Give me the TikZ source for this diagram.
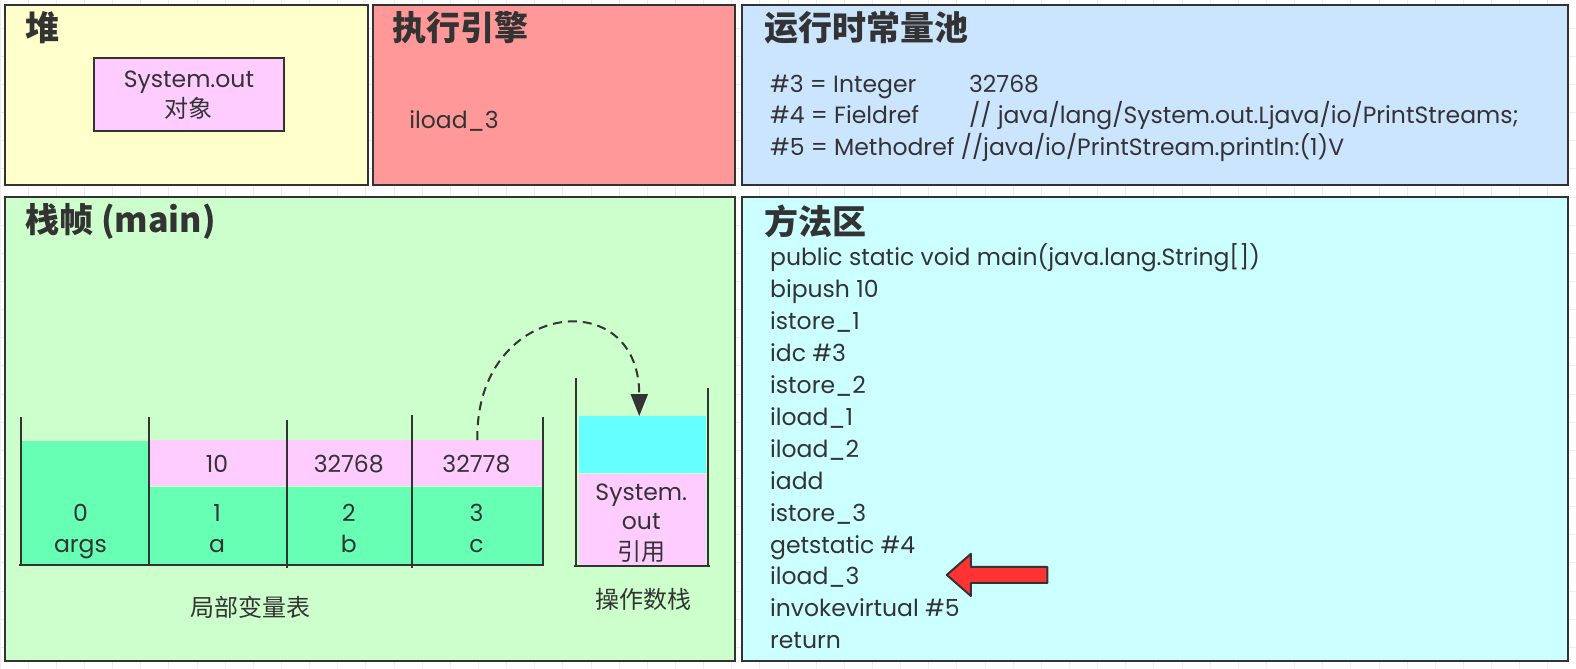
\documentclass[tikz,border=0pt]{standalone}
\usepackage{fontspec}
\setmainfont{Poppins}
\newfontfamily\cjk{Noto Sans CJK SC}
\usetikzlibrary{arrows.meta}
\definecolor{bd}{HTML}{333333}
\definecolor{gridc}{HTML}{EDEDED}
\definecolor{heapc}{HTML}{FFFFCC}
\definecolor{enginec}{HTML}{FF9999}
\definecolor{poolc}{HTML}{CCE5FF}
\definecolor{framec}{HTML}{CCFFCC}
\definecolor{methodc}{HTML}{CCFFFF}
\definecolor{greenc}{HTML}{66FFB3}
\definecolor{pinkc}{HTML}{FFCCFF}
\definecolor{cyanc}{HTML}{66FFFF}
\definecolor{arrowc}{HTML}{FF3333}
\begin{document}
\begin{tikzpicture}[x=1.005pt,y=-1.005pt,
  font=\fontsize{23.5}{28}\selectfont, text=bd,
  region/.style={draw=bd, line width=2pt, inner sep=0pt},
  title/.style={font=\cjk\fontsize{34}{38}\selectfont\bfseries, anchor=west, text=bd, inner sep=0pt},
  txt/.style={anchor=base west, inner sep=0pt, text=bd},
  lbl/.style={anchor=base, inner sep=0pt, text=bd},
  cjkl/.style={inner sep=0pt, text=bd, font=\cjk\fontsize{24}{28}\selectfont},
  cell/.style={inner sep=0pt, draw=none},
  wall/.style={draw=bd, line width=2pt}]
\useasboundingbox (0,0) rectangle (1568,665);
\fill[white] (0,0) rectangle (1568,665);
\foreach \gx in {0,28,...,1568} \draw[gridc, line width=1pt] (\gx,0) -- (\gx,665);
\foreach \gy in {0,28,...,665} \draw[gridc, line width=1pt] (0,\gy) -- (1568,\gy);

% regions
\path[region, fill=heapc] (5,5) rectangle (366,184);
\path[region, fill=enginec] (371,5) rectangle (731,184);
\path[region, fill=poolc] (738,5) rectangle (1560,184);
\path[region, fill=framec] (5,196) rectangle (731,658);
\path[region, fill=methodc] (738,196) rectangle (1560,658);

\node[title] (tHeap) at (25,28) {堆};
\node[title] (tEngine) at (390,28) {执行引擎};
\node[title] (tPool) at (760,28) {运行时常量池};
\node[title] (tFrame) at (25,220) {栈帧 (main)};
\node[title] (tMethod) at (760,220) {方法区};

% heap object
\node[draw=bd, line width=2pt, fill=pinkc, minimum width=190pt, minimum height=73pt, inner sep=0pt] (obj) at (188,94.5) {};
\node[lbl] (objA) at (188,87) {System.out};
\node[cjkl] (objB) at (188,108) {对象};

% engine
\node[txt] (eng) at (407,128) {iload\_3};

% pool
\node[txt] (p1) at (766,92) {\#3 = Integer};
\node[txt] (p1b) at (964,92) {32768};
\node[txt] (p2) at (766,123) {\#4 = Fieldref};
\node[txt] (p2b) at (964,123) {// java/lang/System.out.Ljava/io/PrintStreams;};
\node[txt] (p3) at (766,155) {\#5 = Methodref //java/io/PrintStream.println:(1)V};

% method area
\foreach \t [count=\i] in {public static void main(java.lang.String[]),bipush 10,istore\_1,idc \#3,istore\_2,iload\_1,iload\_2,iadd,istore\_3,getstatic \#4,iload\_3,invokevirtual \#5,return}
  \node[txt] (m\i) at (766,{264+(\i-1)*31.8}) {\t};

% pointer arrow
\path[draw=bd, line width=2pt, fill=arrowc, line join=round]
  (942,572) -- (966,551) -- (966,564) -- (1042,564) -- (1042,580) -- (966,580) -- (966,593) -- cycle;

% local variable table
\node[cell, fill=greenc, minimum width=127pt, minimum height=124pt] (v0) at (84.5,500) {};
\node[lbl] (v0n) at (80,519) {0};
\node[lbl] (v0s) at (80,550) {args};
\foreach \n/\xl/\xr/\val/\nm in {1/148/286/10/a, 2/286/410/32768/b, 3/410/540/32778/c}{
  \node[cell, fill=pinkc, minimum width={(\xr-\xl)*1pt}, minimum height=46pt] (v\n top) at ({(\xl+\xr)/2},461) {};
  \node[cell, fill=greenc, minimum width={(\xr-\xl)*1pt}, minimum height=78pt] (v\n bot) at ({(\xl+\xr)/2},523) {};
  \node[lbl] (v\n val) at ({(\xl+\xr)/2-1},470) {\val};
  \node[lbl] (v\n n) at ({(\xl+\xr)/2-1},519) {\n};
  \node[lbl] (v\n s) at ({(\xl+\xr)/2-1},550) {\nm};
}
\coordinate (w0a) at (21,415); \coordinate (w0b) at (21,562);
\coordinate (w1a) at (148,415); \coordinate (w1b) at (148,562);
\coordinate (w2a) at (286,418); \coordinate (w2b) at (286,565);
\coordinate (w3a) at (410,413); \coordinate (w3b) at (410,565);
\coordinate (w4a) at (540,415); \coordinate (w4b) at (540,562);
\foreach \k in {0,...,4} \draw[wall] (w\k a) -- (w\k b);
\coordinate (baseL) at (19,562); \coordinate (baseR) at (541,562);
\draw[wall] (baseL) -- (baseR);
\node[cjkl] (lvt) at (249,604) {局部变量表};

% operand stack
\node[cell, fill=cyanc, minimum width=127pt, minimum height=57pt] (sTop) at (639,442.5) {};
\node[cell, fill=pinkc, minimum width=127pt, minimum height=92pt] (sBot) at (639,517) {};
\node[lbl] (s1) at (638,498) {System.};
\node[lbl] (s2) at (638,527) {out};
\node[cjkl] (s3) at (638,549) {引用};
\coordinate (sLa) at (573,376); \coordinate (sLb) at (573,563);
\coordinate (sRa) at (704,386); \coordinate (sRb) at (704,563);
\draw[wall] (sLa) -- (sLb);
\draw[wall] (sRa) -- (sRb);
\draw[wall] (571,563) -- (706,563);
\node[cjkl] (ost) at (640,596) {操作数栈};

% dashed move arrow
\draw[bd, line width=2pt, dash pattern=on 9pt off 6pt, -{Triangle[length=22pt,width=17pt]}]
  (v3top.north) .. controls (472,300) and (636,280) .. (sTop.north -| 636,0);
\end{tikzpicture}
\end{document}
